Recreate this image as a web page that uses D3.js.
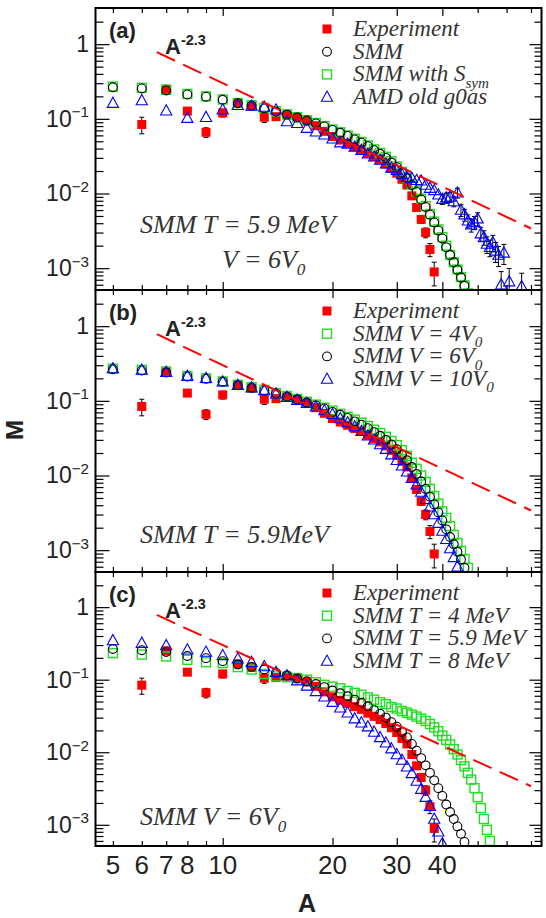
<!DOCTYPE html>
<html>
<head>
<meta charset="utf-8">
<script src="https://cdn.jsdelivr.net/npm/d3@7"></script>
<style>
  body { margin: 0; background: #fff; }
</style>
</head>
<body>
<div id="chart"></div>
<script>
// ---- data ----
const expA = [6,7,8,9,10,11,12,13,14,15,16,17,18,19,20,21,22,23,24,25,26,27,28,29,30,31,32,33,34,35,36,37,38]
const expM = [0.084,0.25,0.127,0.066,0.12,0.165,0.148,0.105,0.107,0.112,0.105,0.093,0.081,0.068,0.058,0.052,0.047,0.0425,0.039,0.0346,0.0312,0.0282,0.0249,0.0218,0.0187,0.0155,0.013,0.0093,0.0065,0.0045,0.003,0.00178,0.00089]
const expErr = [0.25,0.12,0.08,0.15,0.12,0.06,0.06,0.15,0.06,0.05,0.05,0.05,0.05,0.05,0.05,0.05,0.05,0.05,0.05,0.05,0.05,0.05,0.05,0.05,0.06,0.07,0.08,0.1,0.1,0.12,0.15,0.2,0.35]

// SMM T = 5.9 MeV, V = 6V0 (same in all panels)
const smmA = [5,6,7,8,9,10,11,12,13,14,15,16,17,18,19,20,21,22,23,24,25,26,27,28,29,30,31,32,33,34,35,36,37,38,39,40,41,42,43,44,45,46,47]
const smmM = [0.265,0.255,0.24,0.212,0.198,0.18,0.162,0.15,0.138,0.125,0.114,0.104,0.095,0.087,0.079,0.071,0.065,0.059,0.053,0.048,0.043,0.038,0.034,0.030,0.026,0.0225,0.019,0.016,0.013,0.0105,0.0083,0.0066,0.0052,0.0041,0.0032,0.0025,0.0019,0.0015,0.0012,0.00095,0.00075,0.00058,0.00045]

// panel (a): SMM with S_sym
const symM = [0.27,0.26,0.245,0.215,0.2,0.182,0.163,0.152,0.14,0.126,0.115,0.105,0.096,0.088,0.08,0.072,0.066,0.06,0.054,0.049,0.044,0.039,0.035,0.031,0.027,0.023,0.0195,0.0163,0.0133,0.0107,0.0085,0.0068,0.0053,0.0042,0.0033,0.0026,0.002,0.0015,0.0012,0.00096,0.00076,0.00059,0.00046]

// panel (a): AMD old g0as
const amdA = [5,6,7,8,9,10,11,12,13,14,15,16,17,18,19,20,21,22,23,24,25,26,27,28,29,30,31,32,33,34,35,36,37,38,39,40,41,42,43,44,45,46,47,48,49,50,51,52,53,54,55,56,57,58,59,61,66]
const amdM = [0.162,0.176,0.128,0.102,0.105,0.132,0.152,0.148,0.144,0.132,0.092,0.087,0.075,0.067,0.061,0.054,0.048,0.046,0.042,0.038,0.034,0.031,0.028,0.025,0.022,0.0205,0.018,0.0165,0.016,0.015,0.0148,0.013,0.0118,0.011,0.0096,0.0084,0.0088,0.009,0.0078,0.0102,0.006,0.0052,0.0043,0.0038,0.0041,0.0046,0.0029,0.0026,0.0021,0.0019,0.0022,0.0017,0.0015,0.0006,0.0016,0.00066,0.00057]
const amdErr = [0,0,0,0,0,0,0,0,0,0,0,0,0,0,0,0,0,0,0,0,0,0,0,0,0,0,0,0,0,0,0,0,0,0,0,0.15,0.15,0.15,0.15,0.15,0.18,0.18,0.2,0.2,0.2,0.2,0.22,0.22,0.25,0.25,0.25,0.3,0.3,0.5,0.3,0.5,0.5]

// panel (b): SMM V = 4V0 and V = 10V0
const v4A = [5,6,7,8,9,10,11,12,13,14,15,16,17,18,19,20,21,22,23,24,25,26,27,28,29,30,31,32,33,34,35,36,37,38,39,40,41,42,43,44,45,46,47,48]
const v4M = [0.27,0.26,0.245,0.215,0.2,0.182,0.164,0.152,0.14,0.127,0.116,0.106,0.097,0.089,0.081,0.074,0.067,0.061,0.056,0.051,0.046,0.041,0.037,0.033,0.029,0.0255,0.0218,0.0183,0.0148,0.0123,0.01,0.0082,0.0066,0.0053,0.0042,0.0033,0.0027,0.0021,0.0016,0.00125,0.00098,0.00076,0.00058,0.00045]
const v10A = [5,6,7,8,9,10,11,12,13,14,15,16,17,18,19,20,21,22,23,24,25,26,27,28,29,30,31,32,33,34,35,36,37,38,39,40,41,42,43,44]
const v10M = [0.27,0.258,0.242,0.214,0.2,0.18,0.162,0.15,0.137,0.124,0.112,0.102,0.093,0.083,0.074,0.066,0.058,0.051,0.045,0.039,0.034,0.030,0.026,0.0225,0.019,0.016,0.0135,0.0112,0.0092,0.0075,0.006,0.0048,0.0038,0.003,0.0023,0.0018,0.0014,0.00105,0.0008,0.0006]

// panel (c): SMM T = 4 MeV and T = 8 MeV
const t4A = [5,6,7,8,9,10,11,12,13,14,15,16,17,18,19,20,21,22,23,24,25,26,27,28,29,30,31,32,33,34,35,36,37,38,39,40,41,42,43,44,45,46,47,48,49,50,51,52,53,54]
const t4M = [0.232,0.222,0.209,0.188,0.174,0.169,0.149,0.138,0.12,0.111,0.108,0.105,0.1,0.092,0.085,0.08,0.076,0.07,0.066,0.062,0.057,0.053,0.049,0.046,0.042,0.04,0.037,0.035,0.033,0.031,0.029,0.027,0.0245,0.022,0.0195,0.017,0.0148,0.0128,0.011,0.0093,0.0078,0.0064,0.0052,0.0042,0.0032,0.0024,0.0017,0.0012,0.00085,0.0006]
const t8A = [5,6,7,8,9,10,11,12,13,14,15,16,17,18,19,20,21,22,23,24,25,26,27,28,29,30,31,32,33,34,35,36,37,38,39,40]
const t8M = [0.347,0.319,0.296,0.258,0.24,0.216,0.194,0.174,0.152,0.127,0.114,0.097,0.082,0.069,0.058,0.049,0.041,0.035,0.029,0.0255,0.0225,0.019,0.016,0.0135,0.0112,0.0093,0.0078,0.0063,0.0051,0.004,0.0031,0.0024,0.0018,0.0012,0.0008,0.00055]

// A^-2.3 guide line end points
const guideA = [6.6, 70]
const guideM = [0.78, 0.0034]

// ticks
const xTickMajor = [10, 20, 30, 40]
const xTickMinor = [5, 6, 7, 8, 9, 50, 60, 70]
const xTickLabels = [5, 6, 7, 8, 10, 20, 30, 40]
const yTickMajor = [1, 0.1, 0.01, 0.001]
const yTickLabels = [["1", ""], ["10", "\u22121"], ["10", "\u22122"], ["10", "\u22123"]]
const yTickMinor = [3, 2, 0.9, 0.8, 0.7, 0.6, 0.5, 0.4, 0.3, 0.2,
  0.09, 0.08, 0.07, 0.06, 0.05, 0.04, 0.03, 0.02,
  0.009, 0.008, 0.007, 0.006, 0.005, 0.004, 0.003, 0.002,
  0.0009, 0.0008, 0.0007, 0.0006]

// ---- layout ----
const width = 546, height = 918
const left = 95.5, right = 541.5
const red = "#ff0000", green = "#22dd22", blue = "#0000ff"
const sans = "'Liberation Sans', Arial, Helvetica, sans-serif"
const serif = "'Liberation Serif', 'Times New Roman', serif"

const panels = [
  { tag: "(a)", top: 8, bottom: 290,
    series: [
      { a: expA, m: expM, err: expErr, kind: "fill" },
      { a: smmA, m: symM, kind: "sq" },
      { a: smmA, m: smmM, kind: "circ" },
      { a: amdA, m: amdM, err: amdErr, kind: "tri" } ],
    legend: [
      { kind: "fill", parts: [{ t: "Experiment" }] },
      { kind: "circ", parts: [{ t: "SMM" }] },
      { kind: "sq", parts: [{ t: "SMM with S" }, { t: "sym", sub: true }] },
      { kind: "tri", parts: [{ t: "AMD old g0as" }] } ],
    notes: [
      { x: 140, y: 233, parts: [{ t: "SMM T = 5.9 MeV" }] },
      { x: 222, y: 268, parts: [{ t: "V = 6V" }, { t: "0", sub: true }] } ] },
  { tag: "(b)", top: 290, bottom: 572,
    series: [
      { a: expA, m: expM, err: expErr, kind: "fill" },
      { a: v4A, m: v4M, kind: "sq" },
      { a: smmA, m: smmM, kind: "circ" },
      { a: v10A, m: v10M, kind: "tri" } ],
    legend: [
      { kind: "fill", parts: [{ t: "Experiment" }] },
      { kind: "sq", parts: [{ t: "SMM V = 4V" }, { t: "0", sub: true }] },
      { kind: "circ", parts: [{ t: "SMM V = 6V" }, { t: "0", sub: true }] },
      { kind: "tri", parts: [{ t: "SMM V = 10V" }, { t: "0", sub: true }] } ],
    notes: [
      { x: 140, y: 543, parts: [{ t: "SMM T = 5.9MeV" }] } ] },
  { tag: "(c)", top: 572, bottom: 846,
    series: [
      { a: expA, m: expM, err: expErr, kind: "fill" },
      { a: t4A, m: t4M, kind: "sq" },
      { a: smmA, m: smmM, kind: "circ" },
      { a: t8A, m: t8M, kind: "tri" } ],
    legend: [
      { kind: "fill", parts: [{ t: "Experiment" }] },
      { kind: "sq", parts: [{ t: "SMM T = 4 MeV" }] },
      { kind: "circ", parts: [{ t: "SMM T = 5.9 MeV" }] },
      { kind: "tri", parts: [{ t: "SMM T = 8 MeV" }] } ],
    notes: [
      { x: 140, y: 825, parts: [{ t: "SMM V = 6V" }, { t: "0", sub: true }] } ] }
]

const svg = d3.select("#chart").append("svg")
  .attr("width", width)
  .attr("height", height)
  .style("display", "block")

const x = d3.scaleLog().domain([4.48, 74.8]).range([left, right])

// draw a marker of a given kind at (cx, cy)
function marker(g, kind, cx, cy) {
  if (kind === "fill") {
    g.append("rect").attr("x", cx - 4.5).attr("y", cy - 4.5).attr("width", 9).attr("height", 9)
      .attr("fill", red)
  } else if (kind === "sq") {
    g.append("rect").attr("x", cx - 4.5).attr("y", cy - 4.5).attr("width", 9).attr("height", 9)
      .attr("fill", "none").attr("stroke", green).attr("stroke-width", 1.4)
  } else if (kind === "circ") {
    g.append("circle").attr("cx", cx).attr("cy", cy).attr("r", 4.4)
      .attr("fill", "none").attr("stroke", "#000").attr("stroke-width", 1.1)
  } else {
    g.append("path").attr("d", `M${cx},${cy - 6}L${cx + 5.6},${cy + 4.2}L${cx - 5.6},${cy + 4.2}Z`)
      .attr("fill", "none").attr("stroke", blue).attr("stroke-width", 1.1)
  }
}

function richText(g, px, py, parts, size, family, style, weight, color) {
  const t = g.append("text").attr("x", px).attr("y", py)
    .attr("font-size", size).attr("font-family", family)
    .attr("font-style", style).attr("font-weight", weight).attr("fill", color)
  let shift = 0
  parts.forEach(p => {
    const target = p.sub ? size * 0.27 : p.sup ? -size * 0.42 : 0
    const ts = t.append("tspan").text(p.t).attr("dy", target - shift)
    if (p.sub || p.sup) ts.attr("font-size", size * 0.66)
    shift = target
  })
  return t
}

panels.forEach(p => {
  const y = d3.scaleLog().domain([5.1e-4, 3.05]).range([p.bottom, p.top])
  const g = svg.append("g")

  const clip = "clip" + p.top
  svg.append("clipPath").attr("id", clip)
    .append("rect").attr("x", left).attr("y", p.top).attr("width", right - left).attr("height", p.bottom - p.top)
  const plot = g.append("g").attr("clip-path", `url(#${clip})`)

  // series
  p.series.forEach(s => {
    const sg = plot.append("g")
    if (s.err) {
      s.a.forEach((a, i) => {
        const e = s.err[i]
        if (!e) return
        const cx = x(a), lo = y(s.m[i] * (1 - e)), hi = y(s.m[i] * (1 + e))
        sg.append("line").attr("x1", cx).attr("x2", cx).attr("y1", lo).attr("y2", hi)
          .attr("stroke", "#000").attr("stroke-width", 1)
        ;[lo, hi].forEach(v => sg.append("line").attr("x1", cx - 2.5).attr("x2", cx + 2.5)
          .attr("y1", v).attr("y2", v).attr("stroke", "#000").attr("stroke-width", 1))
      })
    }
    s.a.forEach((a, i) => marker(sg, s.kind, x(a), y(s.m[i])))
  })

  // A^-2.3 guide
  plot.append("path")
    .attr("d", d3.line().x(d => x(d[0])).y(d => y(d[1]))(guideA.map((a, i) => [a, guideM[i]])))
    .attr("fill", "none").attr("stroke", red).attr("stroke-width", 2)
    .attr("stroke-dasharray", "20,9")

  // axes: ticks pointing inward on all sides
  const tickAxis = (axis, tx, ty) => g.append("g").attr("transform", `translate(${tx},${ty})`)
    .call(axis).call(a => a.select(".domain").remove())
    .call(a => a.selectAll("text").remove())
    .call(a => a.selectAll("line").attr("stroke", "#000").attr("stroke-width", 1.2))
  const inside = yTickMinor.filter(v => y(v) > p.top + 1 && y(v) < p.bottom - 1)
  tickAxis(d3.axisBottom(x).tickValues(xTickMajor).tickSize(-8), 0, p.bottom)
  tickAxis(d3.axisBottom(x).tickValues(xTickMinor).tickSize(-5), 0, p.bottom)
  tickAxis(d3.axisTop(x).tickValues(xTickMajor).tickSize(-8), 0, p.top)
  tickAxis(d3.axisTop(x).tickValues(xTickMinor).tickSize(-5), 0, p.top)
  tickAxis(d3.axisLeft(y).tickValues(yTickMajor).tickSize(-14), left, 0)
  tickAxis(d3.axisLeft(y).tickValues(inside).tickSize(-8), left, 0)
  tickAxis(d3.axisRight(y).tickValues(yTickMajor).tickSize(-12), right, 0)
  tickAxis(d3.axisRight(y).tickValues(inside).tickSize(-7), right, 0)

  // frame
  g.append("rect").attr("x", left).attr("y", p.top).attr("width", right - left).attr("height", p.bottom - p.top)
    .attr("fill", "none").attr("stroke", "#000").attr("stroke-width", 2)

  // y tick labels
  yTickMajor.forEach((v, i) => {
    const lab = yTickLabels[i]
    const parts = lab[1] ? [{ t: lab[0] }, { t: lab[1], sup: true }] : [{ t: lab[0] }]
    richText(g, 89, y(v) + 8, parts, 23, sans, "normal", "normal", "#222").attr("text-anchor", "end")
  })

  // panel tag and power law label
  richText(g, 109, p.top + 30, [{ t: p.tag }], 22, sans, "normal", "bold", "#222")
  richText(g, 165, p.top + 46, [{ t: "A" }, { t: "-2.3", sup: true }], 22, sans, "normal", "bold", "#222")

  // legend
  p.legend.forEach((l, i) => {
    const ly = p.top + 21 + i * 22.7
    marker(g, l.kind, 327, ly)
    richText(g, 353, ly + 7, l.parts, 23, serif, "italic", "normal", "#333")
  })

  // notes
  p.notes.forEach(n => richText(g, n.x, n.y, n.parts, 26, serif, "italic", "normal", "#333"))

  // x tick labels below the last panel
  if (p.tag === "(c)") {
    g.selectAll(".xl").data(xTickLabels).join("text")
      .attr("x", d => x(d)).attr("y", 874)
      .attr("text-anchor", "middle")
      .attr("font-family", sans).attr("font-size", 26).attr("fill", "#222")
      .text(d => d)
  }
})

// axis titles
svg.append("text").attr("x", 307).attr("y", 912).attr("text-anchor", "middle")
  .attr("font-family", sans).attr("font-size", 25).attr("font-weight", "bold").attr("fill", "#222")
  .text("A")
svg.append("text").attr("transform", "translate(23,430) rotate(-90)").attr("text-anchor", "middle")
  .attr("font-family", sans).attr("font-size", 24).attr("font-weight", "bold").attr("fill", "#222")
  .text("M")
</script>
</body>
</html>
